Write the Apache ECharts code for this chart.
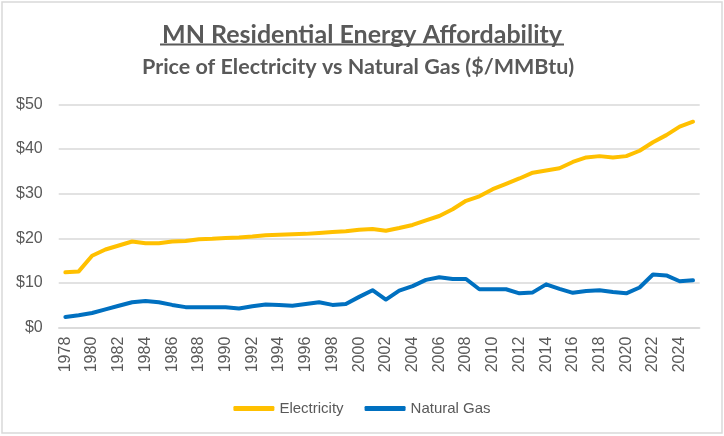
<!DOCTYPE html>
<html>
<head>
<meta charset="utf-8">
<script src="https://cdn.jsdelivr.net/npm/echarts@6/dist/echarts.min.js"></script>
<style>
html,body{margin:0;padding:0;background:#fff;}
#chart{width:724px;height:436px;}
</style>
</head>
<body>
<div id="chart"></div>
<script>
var years = ["1978","1979","1980","1981","1982","1983","1984","1985","1986","1987","1988","1989","1990","1991","1992","1993","1994","1995","1996","1997","1998","1999","2000","2001","2002","2003","2004","2005","2006","2007","2008","2009","2010","2011","2012","2013","2014","2015","2016","2017","2018","2019","2020","2021","2022","2023","2024","2025"];
var electricity = [12.4,12.6,16.1,17.5,18.4,19.3,18.9,18.9,19.3,19.4,19.8,19.9,20.1,20.2,20.4,20.7,20.8,20.9,21.0,21.2,21.4,21.6,21.9,22.1,21.7,22.3,23.0,24.0,25.0,26.5,28.4,29.4,31.0,32.2,33.4,34.7,35.2,35.7,37.1,38.1,38.4,38.1,38.4,39.6,41.5,43.1,45.0,46.1];
var naturalGas = [2.4,2.8,3.3,4.1,4.9,5.7,6.0,5.7,5.1,4.6,4.6,4.6,4.6,4.3,4.8,5.2,5.1,4.9,5.3,5.7,5.1,5.3,6.9,8.4,6.3,8.3,9.3,10.7,11.3,10.9,10.9,8.6,8.6,8.6,7.7,7.9,9.7,8.7,7.8,8.2,8.4,8.0,7.7,9.0,11.9,11.7,10.4,10.6];
var yTicks = {min: 0, max: 50, interval: 10};
var titleText = "MN Residential Energy Affordability";
var subtitleText = "Price of Electricity vs Natural Gas ($/MMBtu)";

var chart = echarts.init(document.getElementById('chart'));
var txt = '#595959';
var font = 'Lato';
chart.setOption({
  animation: false,
  backgroundColor: '#fff',
  title: [
    {text: titleText, left: 'center', top: 17, textStyle: {fontFamily: font, fontWeight: 'bold', fontSize: 25, color: txt}},
    {text: subtitleText, left: 137, top: 51, textStyle: {fontFamily: font, fontWeight: 'bold', fontSize: 21.5, color: txt}}
  ],
  graphic: [
    {type: 'rect', shape: {x: 2, y: 2, width: 720, height: 431}, style: {fill: 'none', stroke: '#d9d9d9', lineWidth: 1.5}, silent: true},
    {type: 'line', shape: {x1: 160, y1: 44.5, x2: 564, y2: 44.5}, style: {stroke: txt, lineWidth: 2}, silent: true}
  ],
  grid: {left: 58.7, right: 24.3, top: 104.3, bottom: 108.3, containLabel: false},
  legend: {
    left: 'center', top: 396,
    itemWidth: 41, itemHeight: 5, itemGap: 21,
    icon: 'roundRect',
    textStyle: {fontFamily: 'Liberation Sans', fontSize: 15, color: txt},
    data: ['Electricity', 'Natural Gas']
  },
  xAxis: {
    type: 'category', data: years, boundaryGap: true,
    axisLine: {lineStyle: {color: '#d9d9d9', width: 1.5}},
    axisTick: {show: false},
    axisLabel: {interval: 1, rotate: 90, color: txt, fontFamily: 'Liberation Sans', fontSize: 16, margin: 9}
  },
  yAxis: {
    type: 'value', min: yTicks.min, max: yTicks.max, interval: yTicks.interval,
    axisLine: {show: false}, axisTick: {show: false},
    splitLine: {lineStyle: {color: '#d9d9d9', width: 1.5}},
    axisLabel: {formatter: '${value}', color: txt, fontFamily: 'Liberation Sans', fontSize: 16, margin: 16}
  },
  series: [
    {name: 'Electricity', type: 'line', data: electricity, showSymbol: false, symbol: 'none', lineStyle: {color: '#FFC000', width: 4, cap: 'round', join: 'round'}, itemStyle: {color: '#FFC000'}},
    {name: 'Natural Gas', type: 'line', data: naturalGas, showSymbol: false, symbol: 'none', lineStyle: {color: '#0070C0', width: 4, cap: 'round', join: 'round'}, itemStyle: {color: '#0070C0'}}
  ]
});
</script>
</body>
</html>
